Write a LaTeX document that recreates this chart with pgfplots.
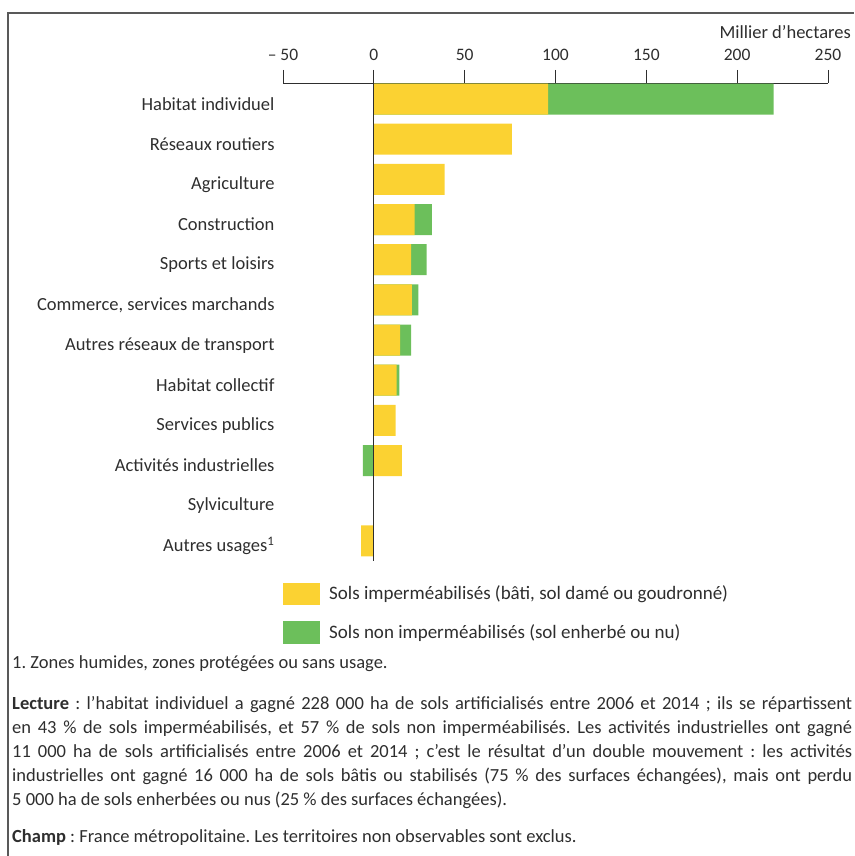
\documentclass[border=0pt]{standalone}
\usepackage{pgfplots}
\pgfplotsset{compat=1.18}
\usepackage{fontspec}
\setmainfont{Carlito}
\frenchspacing
\definecolor{jaune}{HTML}{FBD232}
\definecolor{vert}{HTML}{6CBF5B}
\definecolor{texte}{HTML}{2E2E2E}
\begin{document}
\begin{tikzpicture}[x=1pt,y=1pt]
\useasboundingbox (0,0) rectangle (854,856);
\draw[gray!70!black, line width=1.2pt] (8,0) -- (8,843) -- (854,843);
\begin{axis}[
  at={(283pt,295pt)}, anchor=south west,
  scale only axis, width=545pt, height=478pt,
  xmin=-50, xmax=250, ymin=-0.5, ymax=11.4,
  axis x line*=top, axis y line*=left,
  y axis line style={draw=none},
  x axis line style={draw=texte, line width=0.8pt},
  xtick={-50,0,50,100,150,200,250},
  xticklabels={– 50,0,50,100,150,200,250},
  ytick={0,...,11},
  yticklabels={Autres usages\textsuperscript{1}, Sylviculture, Activités industrielles, Services publics, Habitat collectif, Autres réseaux de transport, {Commerce, services marchands}, Sports et loisirs, Construction, Agriculture, Réseaux routiers, Habitat individuel},
  tick align=outside,
  major tick length=13pt,
  xtick style={draw=texte, line width=0.8pt},
  ytick style={draw=none},
  tick label style={font=\fontsize{18.5}{20}\selectfont, text=texte},
  xticklabel style={font=\fontsize{17.5}{20}\selectfont, yshift=6pt},
  yticklabel style={yshift=-5pt, xshift=8pt},
  clip=false,
]
\addplot[xbar, bar width=31pt, bar shift=0pt, fill=vert, draw=none] coordinates {(220,11) (32,8) (29,7) (24.5,6) (20.5,5) (14,4) (-6,2)};
\addplot[xbar, bar width=31pt, bar shift=0pt, fill=jaune, draw=none] coordinates {(96,11) (76,10) (39,9) (22.5,8) (20.5,7) (21,6) (14.5,5) (12.5,4) (12,3) (15.5,2) (-7,0)};
\addplot[sharp plot, mark=none, draw=texte, line width=1pt] coordinates {(0,-0.5) (0,11.4)};
\end{axis}
\node[anchor=east, text=texte, font=\fontsize{18.5}{20}\selectfont, inner sep=0pt] at (851,824) {Millier d’hectares};
\fill[jaune] (283,251) rectangle (320,273);
\fill[vert] (283,212) rectangle (320,235);
\node[anchor=west, text=texte, font=\fontsize{19}{20}\selectfont, inner sep=0pt] at (329,262) {Sols imperméabilisés (bâti, sol damé ou goudronné)};
\node[anchor=west, text=texte, font=\fontsize{19}{20}\selectfont, inner sep=0pt] at (329,223) {Sols non imperméabilisés (sol enherbé ou nu)};
\node[anchor=west, text=texte, font=\fontsize{18.5}{24}\selectfont, inner sep=0pt] at (12,192) {1. Zones humides, zones protégées ou sans usage.};
\node[anchor=base west, text=texte, inner sep=0pt] at (12,146) {\parbox[t]{840pt}{\fontsize{18.5}{24}\selectfont\emergencystretch=2em\tolerance=9999
\textbf{Lecture} : l’habitat individuel a gagné 228~000 ha de sols artificialisés entre 2006 et 2014 ; ils se répartissent\linebreak
en 43~\% de sols imperméabilisés, et 57~\% de sols non imperméabilisés. Les activités industrielles ont gagné\linebreak
11~000 ha de sols artificialisés entre 2006 et 2014 ; c’est le résultat d’un double mouvement : les activités\linebreak
industrielles ont gagné 16~000 ha de sols bâtis ou stabilisés (75~\% des surfaces échangées), mais ont perdu\linebreak
5~000 ha de sols enherbées ou nus (25~\% des surfaces échangées).}};
\node[anchor=base west, text=texte, font=\fontsize{18.5}{24}\selectfont, inner sep=0pt] at (12,13) {\textbf{Champ} : France métropolitaine. Les territoires non observables sont exclus.};
\end{tikzpicture}
\end{document}
